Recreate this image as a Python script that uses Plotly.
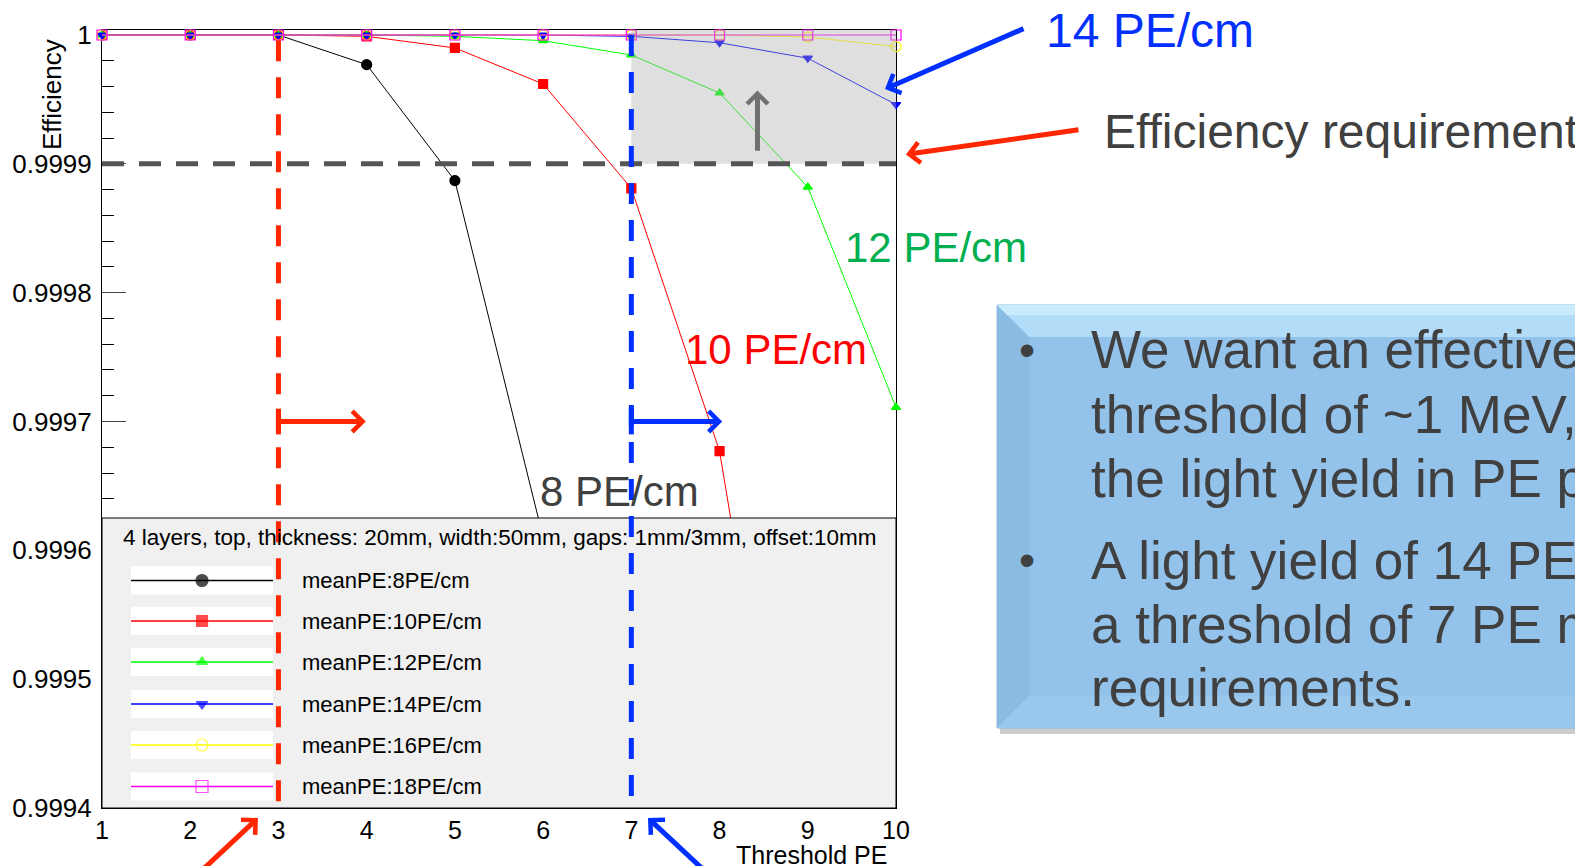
import plotly.graph_objects as go

# ---------- Data ----------
threshold_pe = [1, 2, 3, 4, 5, 6, 7, 8, 9, 10]

eff_8pe = [1.0, 1.0, 1.0, 0.999977, 0.999887, 0.99961, 0.99925, 0.99885, 0.99840, 0.99790]
eff_10pe = [1.0, 1.0, 1.0, 0.999999, 0.99999, 0.999962, 0.999881, 0.999677, 0.99926, 0.99885]
eff_12pe = [1.0, 1.0, 1.0, 1.0, 0.999999, 0.9999956, 0.9999845, 0.999955, 0.999882, 0.999711]
eff_14pe = [1.0, 1.0, 1.0, 1.0, 1.0, 1.0, 0.999999, 0.999994, 0.999982, 0.999946]
eff_16pe = [1.0, 1.0, 1.0, 1.0, 1.0, 1.0, 1.0, 1.0, 0.9999985, 0.999991]
eff_18pe = [1.0, 1.0, 1.0, 1.0, 1.0, 1.0, 1.0, 1.0, 1.0, 1.0]

series_names = ["meanPE:8PE/cm", "meanPE:10PE/cm", "meanPE:12PE/cm",
                "meanPE:14PE/cm", "meanPE:16PE/cm", "meanPE:18PE/cm"]
series_values = [eff_8pe, eff_10pe, eff_12pe, eff_14pe, eff_16pe, eff_18pe]

y_tick_vals = [1.0, 0.9999, 0.9998, 0.9997, 0.9996, 0.9995, 0.9994]
y_tick_text = ["1", "0.9999", "0.9998", "0.9997", "0.9996", "0.9995", "0.9994"]

requirement = 0.9999
legend_header = "4 layers, top, thickness: 20mm, width:50mm, gaps: 1mm/3mm, offset:10mm"
box_lines = ["We want an effective", "threshold of ~1 MeV,", "the light yield in PE p",
             "A light yield of 14 PE/", "a threshold of 7 PE m", "requirements."]

# ---------- Style ----------
colors = ["black", "#ff0000", "#00ff00", "#0000ff", "#ffff00", "#ff00ff"]
symbols = ["circle", "square", "triangle-up", "triangle-down", "circle-open", "square-open"]
sizes = [10, 9, 8, 8, 10, 10]
FONT = "Liberation Sans, Arial, Helvetica, sans-serif"
TXT = "#404040"
RED = "#ff2600"
BLUE = "#0030ff"

W, H = 1583, 866
OFF = 8  # page body margin
# plot frame in screen pixels
L, R, T, B = 102, 896, 30, 808
Y_TOP = 1.0000039


def px(x):
    return (x - L) / (R - L)


def py(y):
    return (B - y) / (B - T)


fig = go.Figure()

for name, vals, c, s, sz in zip(series_names, series_values, colors, symbols, sizes):
    fig.add_trace(go.Scatter(
        x=threshold_pe, y=vals, mode="lines+markers", name=name,
        line=dict(color=c, width=1),
        marker=dict(symbol=s, size=sz, color=c, line=dict(color=c, width=1.2)),
        cliponaxis=min(vals) < 0.9994,
        showlegend=False, hoverinfo="skip"))

# legend box drawn above the data (overlay axes, paper-like coords)
box_top = py(518)
fig.add_trace(go.Scatter(
    x=[0, 1, 1, 0, 0], y=[0, 0, box_top, box_top, 0], xaxis="x2", yaxis="y2",
    mode="lines", fill="toself", fillcolor="#f0f0f0", line=dict(color="black", width=1),
    showlegend=False, hoverinfo="skip"))

rows = [580.5, 621, 662, 704, 745, 786.5]
bx, by = [], []
for r in rows:
    y0, y1 = py(r + 14), py(r - 14)
    bx += [px(131), px(273), px(273), px(131), px(131), None]
    by += [y0, y0, y1, y1, y0, None]
fig.add_trace(go.Scatter(
    x=bx, y=by, xaxis="x2", yaxis="y2", mode="lines", fill="toself",
    fillcolor="white", line=dict(width=0), showlegend=False, hoverinfo="skip"))

for r, c, s, sz in zip(rows, colors, symbols, sizes):
    fig.add_trace(go.Scatter(
        x=[px(131), px(202), px(273)], y=[py(r)] * 3, xaxis="x2", yaxis="y2",
        mode="lines+markers", line=dict(color=c, width=1.5),
        marker=dict(symbol=s, size=[0, sz + 2, 0], color=c, line=dict(color=c, width=1.2)),
        showlegend=False, hoverinfo="skip"))

shapes = []
# text box with bevel and shadow
bl, bt, bb, bw = 997, 305, 728, 32
shapes.append(dict(type="rect", xref="paper", yref="paper", x0=px(bl + 3), x1=px(1620),
                   y0=py(bb + 6), y1=py(bt + 8), fillcolor="rgba(0,0,0,0.2)", line=dict(width=0)))
shapes.append(dict(type="rect", xref="paper", yref="paper", x0=px(bl), x1=px(1620),
                   y0=py(bb), y1=py(bt), fillcolor="#93c2ea", line=dict(color="#8ab9e2", width=1)))
shapes.append(dict(type="path", xref="paper", yref="paper", fillcolor="#b2dcf7", line=dict(width=0),
                   path=f"M{px(bl)},{py(bt)} L{px(1620)},{py(bt)} L{px(1620)},{py(bt + bw)} "
                        f"L{px(bl + bw)},{py(bt + bw)} Z"))
shapes.append(dict(type="rect", xref="paper", yref="paper", x0=px(bl), x1=px(1620),
                   y0=py(bt + 10), y1=py(bt), fillcolor="#c8ecfc", line=dict(width=0)))
shapes.append(dict(type="path", xref="paper", yref="paper", fillcolor="#8abbe3", line=dict(width=0),
                   path=f"M{px(bl)},{py(bt)} L{px(bl + bw)},{py(bt + bw)} L{px(bl + bw)},{py(bb - bw)} "
                        f"L{px(bl)},{py(bb)} Z"))
shapes.append(dict(type="path", xref="paper", yref="paper", fillcolor="#9ac8ed", line=dict(width=0),
                   path=f"M{px(bl)},{py(bb)} L{px(bl + bw)},{py(bb - bw)} L{px(1620)},{py(bb - bw)} "
                        f"L{px(1620)},{py(bb)} Z"))
# accepted region
shapes.append(dict(type="rect", xref="x", yref="y", x0=7, x1=10, y0=requirement, y1=Y_TOP,
                   fillcolor="rgb(170,170,170)", opacity=0.38, line=dict(width=0), layer="above"))
# requirement line and thresholds (dashes start at the top)
shapes.append(dict(type="line", xref="x", yref="y", x0=1, x1=10, y0=requirement, y1=requirement,
                   line=dict(color="#555555", width=5, dash="22px,15px"), layer="above"))
shapes.append(dict(type="line", xref="x", yref="y", x0=3, x1=3, y0=0.999996, y1=0.9994,
                   line=dict(color=RED, width=5, dash="21px,16px"), layer="above"))
shapes.append(dict(type="line", xref="x", yref="y", x0=7, x1=7, y0=1.0, y1=0.9994,
                   line=dict(color=BLUE, width=5, dash="21px,16px"), layer="above"))
# caps at arrow tails
for xc, col in [(3, RED), (7, BLUE)]:
    shapes.append(dict(type="line", xref="x", yref="y", x0=xc, x1=xc, y0=0.99969, y1=0.99971,
                       line=dict(color=col, width=5), layer="above"))

ann = []


def text(x, y, s, size, color, anchor="left", **kw):
    ann.append(dict(xref="paper", yref="paper", x=px(x), y=py(y), text=s, showarrow=False,
                    xanchor=anchor, yanchor="middle", font=dict(family=FONT, size=size, color=color), **kw))


def arrow(hx, hy, ax, ay, color, width=5):
    ann.append(dict(xref="paper", yref="paper", x=px(hx), y=py(hy), ax=ax, ay=ay, text="",
                    showarrow=True, arrowhead=4, arrowsize=0.8, arrowwidth=width, arrowcolor=color))


def data_arrow(x, y, tx, ty, color):
    ann.append(dict(xref="x", yref="y", x=x, y=y, axref="x", ayref="y", ax=tx, ay=ty, text="",
                    showarrow=True, arrowhead=4, arrowsize=0.8, arrowwidth=5, arrowcolor=color))


text(52, 95, "Efficiency", 26, "black", anchor="center", textangle=-90)
text(889, 855, "Threshold PE", 25, "black", anchor="right")
text(121, 537, legend_header, 22.5, "black")
for r, n in zip(rows, series_names):
    text(300, r, n, 22, "black")

text(1044, 31, "14 PE/cm", 48, BLUE)
text(1102, 131, "Efficiency requirement", 48, TXT)
text(843, 247, "12 PE/cm", 42, "#00b050")
text(683, 350, "10 PE/cm", 42, "#ff0000")
text(538, 491, "8 PE/cm", 42, TXT)

line_y = [350, 415, 478.5, 560, 624, 687.5]
for yy, s in zip(line_y, box_lines):
    text(1089, yy, s, 53, TXT)
text(1017, 350, "•", 46, TXT)
text(1017, 560, "•", 46, TXT)

arrow(885, 89, 140, -61, BLUE)
arrow(906, 154.5, 174, -25, RED)
arrow(258, 818, -60, 60, RED)
arrow(648, 818, 60, 60, BLUE)
data_arrow(3.99, 0.9997, 3.0, 0.9997, RED)
data_arrow(8.03, 0.9997, 7.0, 0.9997, BLUE)
data_arrow(8.43, 0.999957, 8.43, 0.999909, "#707070")

fig.update_layout(
    width=W, height=H, autosize=False,
    margin=dict(l=L - OFF, r=W - (R - OFF), t=T - OFF, b=H - (B - OFF), pad=0),
    paper_bgcolor="white", plot_bgcolor="white",
    font=dict(family=FONT, size=24, color="black"),
    showlegend=False,
    shapes=shapes, annotations=ann,
    xaxis=dict(range=[1, 10], tickvals=threshold_pe, ticks="inside", ticklen=18,
               showline=True, mirror=True, linecolor="black", linewidth=1,
               showgrid=False, zeroline=False, layer="below traces", automargin=False,
               tickfont=dict(size=25), ticklabelstandoff=0),
    yaxis=dict(range=[0.9994, Y_TOP], tickvals=y_tick_vals, ticktext=y_tick_text,
               ticks="inside", ticklen=24, showline=True, mirror=True, linecolor="black",
               linewidth=1, showgrid=False, zeroline=False, layer="below traces", automargin=False,
               tickfont=dict(size=26), ticklabelstandoff=4,
               minor=dict(tickmode="linear", tick0=0.9994, dtick=0.00002, ticks="inside",
                          ticklen=12, tickcolor="black")),
    xaxis2=dict(overlaying="x", range=[0, 1], visible=False),
    yaxis2=dict(overlaying="y", range=[0, 1], visible=False),
)

fig.write_html("out.html")
